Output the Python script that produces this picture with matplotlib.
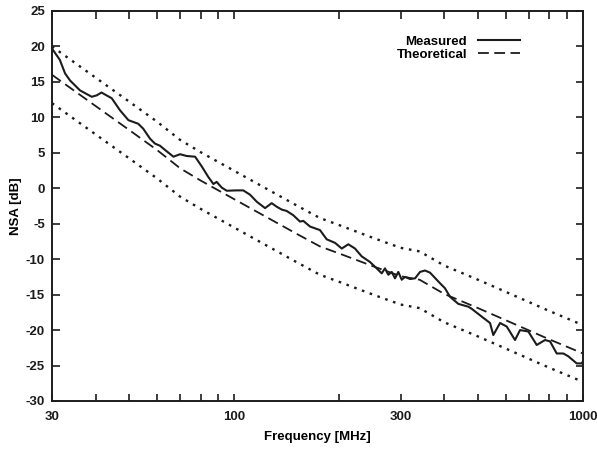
import numpy as np
import matplotlib
matplotlib.use("Agg")
import matplotlib.pyplot as plt
from matplotlib.ticker import FixedLocator, NullFormatter

plt.rcParams["font.family"] = ["Liberation Sans", "DejaVu Sans"]
plt.rcParams["font.weight"] = "bold"
plt.rcParams["axes.unicode_minus"] = False

# Measured NSA
meas_freq = [30, 31.6, 32.7, 33.8, 36.1, 39.0, 40.3, 41.6, 43.0, 44.5, 47.0, 49.7,
             53.0, 54.8, 57.3, 59.2, 61.2, 63.3, 66.9, 69.9, 73.0, 77.2, 80.6, 84.2,
             87.1, 89.0, 92.0, 95.1, 101.6, 106.1, 110.9, 116.0, 122.5, 128.0, 132.3,
             136.7, 141.3, 147.6, 154.3, 157.7, 164.9, 176.1, 184.1, 194.5, 203.3,
             212.3, 221.9, 231.9, 245.0, 256.1, 264.7, 270.5, 276.5, 282.8, 289.0,
             295.4, 302.1, 308.7, 319.2, 330.0, 340.9, 352.3, 364.2, 380.6, 389.1,
             402.0, 415.5, 438.9, 468.9, 479.6, 512.4, 541.3, 553.1, 578.3, 604.4,
             638.4, 660.0, 697.0, 736.8, 778.3, 804.6, 840.9, 878.4, 907.8, 959.4,
             991.8, 1000]
meas_nsa = [19.7, 18.1, 16.2, 15.2, 13.8, 12.9, 13.1, 13.5, 13.1, 12.7, 11.0, 9.6,
            9.1, 8.4, 7.0, 6.3, 6.0, 5.4, 4.45, 4.8, 4.55, 4.45, 3.1, 1.6,
            0.6, 0.9, 0.1, -0.35, -0.3, -0.3, -0.9, -1.9, -2.8, -2.1, -2.6,
            -3.0, -3.2, -3.8, -4.7, -4.6, -5.4, -5.9, -7.2, -7.7, -8.5,
            -7.9, -8.5, -9.6, -10.4, -11.3, -12.0, -11.3, -12.2, -11.8, -12.7,
            -11.8, -12.9, -12.5, -12.8, -12.7, -11.8, -11.6, -11.9, -12.9, -13.4,
            -14.1, -15.3, -16.3, -16.7, -17.0, -18.1, -19.0, -20.7, -19.0, -19.5,
            -21.4, -20.0, -20.2, -22.1, -21.4, -21.6, -23.3, -23.3, -23.7, -24.7,
            -24.7, -24.4]

# Theoretical NSA
theo_freq = [30, 40, 50, 60, 70, 80, 100, 150, 176, 200, 250, 300, 340, 400,
             500, 600, 800, 1000]
theo_nsa = [16.0, 11.6, 8.2, 5.4, 2.8, 1.1, -1.55, -6.35, -8.2, -9.2, -11.0,
            -12.4, -12.9, -14.9, -16.9, -18.6, -21.3, -23.3]
tolerance = 4.0

ink = "#1c1c1c"

fig = plt.figure(figsize=(5.97, 4.5), dpi=100)
ax = fig.add_axes([0.0871, 0.1089, 0.8894, 0.8667])

theo = np.array(theo_nsa)
ax.plot(theo_freq, theo + tolerance, color=ink, lw=1.7, linestyle=(0, (1.1, 2.4)))
ax.plot(theo_freq, theo - tolerance, color=ink, lw=1.7, linestyle=(0, (1.1, 2.4)))
ax.plot(meas_freq, meas_nsa, color=ink, lw=1.5, label="Measured")
ax.plot(theo_freq, theo_nsa, color=ink, lw=1.3, linestyle=(0, (6, 3)),
        label="Theoretical")

ax.set_xscale("log")
ax.set_xlim(30, 1000)
ax.set_ylim(-30, 25)

ax.xaxis.set_major_locator(FixedLocator([30, 100, 300, 1000]))
ax.xaxis.set_major_formatter(plt.FixedFormatter(["30", "100", "300", "1000"]))
ax.xaxis.set_minor_locator(FixedLocator([40, 50, 60, 70, 80, 90, 200, 400, 500,
                                         600, 700, 800, 900]))
ax.xaxis.set_minor_formatter(NullFormatter())
ax.set_yticks(np.arange(-30, 26, 5))

ax.tick_params(which="both", direction="in", top=True, right=True,
               length=5.4, width=1.2, colors=ink, labelsize=9.5, pad=5)
ax.tick_params(axis="x", which="both", pad=7)
for lab in ax.get_xticklabels() + ax.get_yticklabels():
    lab.set_fontweight("bold")
for s in ax.spines.values():
    s.set_linewidth(1.4)
    s.set_color(ink)

ax.set_xlabel("Frequency [MHz]", fontsize=9.5, fontweight="bold", labelpad=6)
ax.set_ylabel("NSA [dB]", fontsize=9.5, fontweight="bold", labelpad=3)

leg = ax.legend(loc="upper right", bbox_to_anchor=(0.881, 0.937), frameon=False,
                markerfirst=False, handlelength=3.2, handletextpad=0.8,
                labelspacing=0.05, borderpad=0, borderaxespad=0,
                prop={"size": 9.5, "weight": "bold"})

fig.savefig("out.png", dpi=100)
